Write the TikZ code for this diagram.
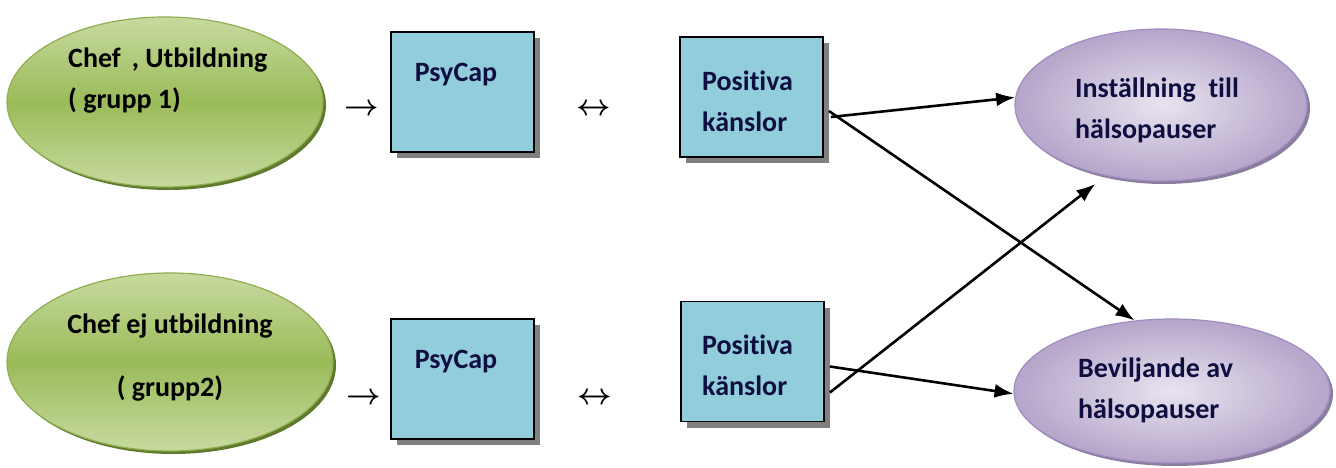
\documentclass[tikz,border=0pt]{standalone}
\usepackage{fontspec}
\setmainfont{Carlito}[Ligatures=NoCommon]
\usepackage{tikz}
\usetikzlibrary{shapes.geometric,shadows,arrows.meta}

\definecolor{grnlight}{HTML}{C7DA9F}
\definecolor{grnmid}{HTML}{9BBB59}
\definecolor{grnedge}{HTML}{8EAE4F}
\definecolor{grnshadow}{HTML}{5F7A2C}
\definecolor{lilinner}{HTML}{E8E3EF}
\definecolor{lilouter}{HTML}{B5A5CA}
\definecolor{liledge}{HTML}{A08DC2}
\definecolor{lilshadow}{HTML}{8A7E9E}
\definecolor{boxfill}{HTML}{92CDDC}
\definecolor{navytext}{HTML}{0E0E40}

\begin{document}
\begin{tikzpicture}[x=1pt, y=-1pt,
    font=\fontsize{28}{41}\selectfont\bfseries,
    grp/.style={ellipse, draw=grnedge, line width=1.2pt,
        top color=grnlight, bottom color=grnlight, middle color=grnmid,
        general shadow={fill=grnshadow, shadow xshift=3pt, shadow yshift=-3pt}},
    utfall/.style={ellipse, draw=liledge, line width=1.2pt,
        inner color=lilinner, outer color=lilouter,
        general shadow={fill=lilshadow, shadow xshift=3pt, shadow yshift=-3pt}},
    varbox/.style={rectangle, draw=black, line width=1.8pt, fill=boxfill,
        minimum width=143pt, minimum height=120pt,
        general shadow={fill=black!50, shadow xshift=6pt, shadow yshift=-6pt}},
    txt/.style={align=left, anchor=west, text=navytext},
    tecken/.style={font=\fontsize{10}{12}\selectfont\boldmath},
    conn/.style={line width=2.6pt, -{Latex[length=19pt,width=14pt]}}]
            \tikzstyle{every node}+=[inner sep=0pt]
            \useasboundingbox (0,0) rectangle (1336,468);
            % grupper
            \node [grp, minimum width=316pt, minimum height=170pt] (g1) at (165,102) {};
            \node [grp, minimum width=326pt, minimum height=178pt] (g2) at (170,362) {};
            \node [txt, text=black] (g1txt) at (68,81) {Chef\ \,, Utbildning\\( grupp 1)};
            \node [align=center] (g2txt) at (170,358) {Chef ej utbildning\\[22pt]( grupp2)};
            % PsyCap
            \node [varbox] (ps1) at (462.5,92) {};
            \node [varbox] (ps2) at (462.5,379) {};
            \node [text=navytext] (ps1txt) at (456,75) {PsyCap};
            \node [text=navytext] (ps2txt) at (456,362) {PsyCap};
            % positiva kanslor
            \node [varbox] (pk1) at (751.5,97) {};
            \node [varbox] (pk2) at (752.5,361.5) {};
            \node [txt] (pk1txt) at (702,101) {Positiva\\känslor};
            \node [txt] (pk2txt) at (702,365) {Positiva\\känslor};
            % utfall
            \node [utfall, minimum width=292pt, minimum height=152pt] (pi1) at (1161,105) {};
            \node [utfall, minimum width=316pt, minimum height=144pt] (pb2) at (1172,391) {};
            \node [txt] (pi1txt) at (1075,110) {Inställning\ \ till\\hälsopauser};
            \node [txt] (pb2txt) at (1078,390) {Beviljande av\\hälsopauser};
            % tecken
            \node [tecken] (ar1) at (362,110) {\scalebox{3}{$\rightarrow$}};
            \node [tecken] (ar2) at (364,399) {\scalebox{3}{$\rightarrow$}};
            \node [tecken] (lr1) at (594,110) {\scalebox{3}{$\leftrightarrow$}};
            \node [tecken] (lr2) at (595,399) {\scalebox{3}{$\leftrightarrow$}};
            % pilar
            \draw [conn] ([shift={(7,20)}]pk1.east) -- (pi1.177);
            \draw [conn] ([shift={(5,14)}]pk1.east) -- (pb2.118);
            \draw [conn, shorten >=13pt] ([shift={(5,31)}]pk2.east) -- (pi1.232);
            \draw [conn] ([shift={(5,5)}]pk2.east) -- (pb2.181);
        \end{tikzpicture}
\end{document}
